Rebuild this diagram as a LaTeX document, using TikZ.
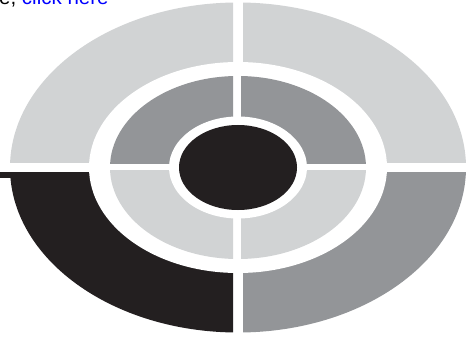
\documentclass[tikz,border=0pt]{standalone}
\usepackage{fontspec}
\setmainfont{Liberation Sans}
\definecolor{lgray}{HTML}{D1D3D4}
\definecolor{dgray}{HTML}{939598}
\definecolor{blk}{HTML}{231F20}
\definecolor{linkblue}{HTML}{0000FF}
\begin{document}
\begin{tikzpicture}[x=1pt,y=-1pt,
  outer/.style={x radius=228pt,y radius=165pt},
  holeo/.style={x radius=149pt,y radius=105.5pt},
  middle/.style={x radius=128pt,y radius=91.5pt},
  holem/.style={x radius=69pt,y radius=51pt},
  core/.style={x radius=59pt,y radius=42.5pt}]
\useasboundingbox (0,0) rectangle (473,339);
\coordinate (c) at (238,167.5);
% outer ring quadrants
\begin{scope}\clip (0,0) rectangle (233,162); \fill[lgray] (c) ellipse[outer]; \end{scope}
\begin{scope}\clip (243,0) rectangle (473,162); \fill[lgray] (c) ellipse[outer]; \end{scope}
\begin{scope}\clip (0,172) rectangle (233,339); \fill[blk] (c) ellipse[outer]; \end{scope}
\begin{scope}\clip (243,172) rectangle (473,339); \fill[dgray] (c) ellipse[outer]; \end{scope}
\fill[blk] (0,172) rectangle (20,178);
\fill[white] (c) ellipse[holeo];
% middle ring quadrants
\begin{scope}\clip (0,0) rectangle (233,163.3); \fill[dgray] (c) ellipse[middle]; \end{scope}
\begin{scope}\clip (241,0) rectangle (473,163.3); \fill[dgray] (c) ellipse[middle]; \end{scope}
\begin{scope}\clip (0,170.7) rectangle (233,339); \fill[lgray] (c) ellipse[middle]; \end{scope}
\begin{scope}\clip (241,170.7) rectangle (473,339); \fill[lgray] (c) ellipse[middle]; \end{scope}
\fill[white] (c) ellipse[holem];
\fill[blk] (c) ellipse[core];
% top text
\node[anchor=base west,inner sep=0pt,font=\fontsize{20.5}{22}\selectfont] (txt) at (-1,5) {e, \textcolor{linkblue}{click here}};
\end{tikzpicture}
\end{document}
